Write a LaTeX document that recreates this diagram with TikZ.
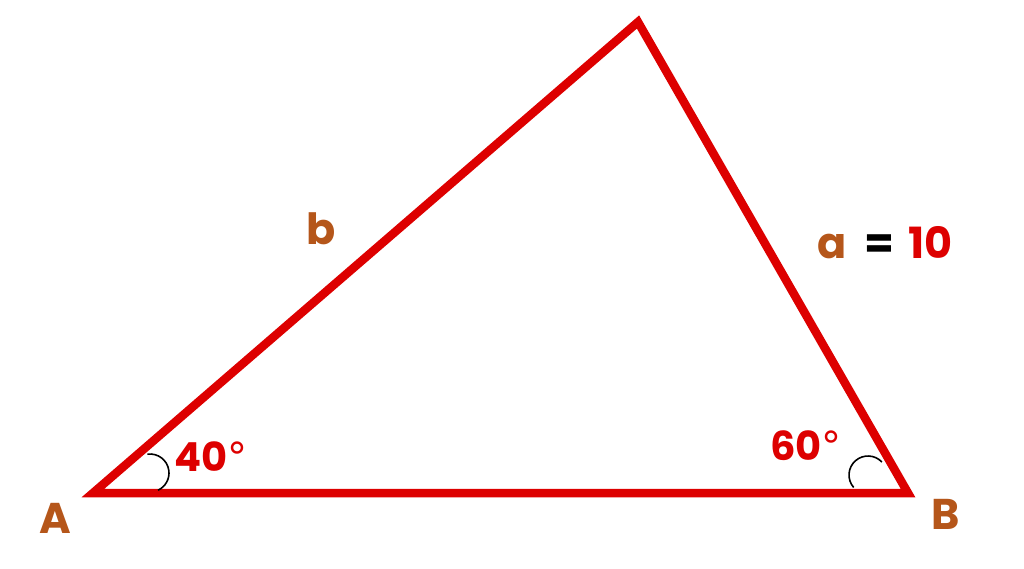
\documentclass[tikz,border=0pt]{standalone}
\usepackage{fontspec}
\setmainfont{Poppins}
\newfontfamily\degfont{DejaVu Sans}
\definecolor{tri}{HTML}{DD0000}
\definecolor{lbl}{HTML}{B5561A}
\tikzset{
  side/.style={draw=tri, line width=8.5, line join=miter},
  vlabel/.style={text=lbl, font=\fontsize{43}{43}\selectfont\bfseries},
  anglabel/.style={text=tri, font=\fontsize{40}{40}\selectfont\bfseries},
  anglearc/.style={draw=black, line width=1.6}
}
\begin{document}
\begin{tikzpicture}[x=1pt,y=-1pt]
\useasboundingbox (0,0) rectangle (1024,568);
\coordinate (A) at (93,493);
\coordinate (B) at (908,493);
\coordinate (C) at (638,22);
\draw[side] (A) -- (B) -- (C) -- cycle;
\coordinate (ac) at (150,473);
\coordinate (bc) at (868,475);
\draw[anglearc] ([shift={(-98:19)}]ac) arc[start angle=-98, end angle=65, radius=19];
\draw[anglearc] ([shift={(139:19)}]bc) arc[start angle=139, end angle=317, radius=19];
\node[vlabel] (la) at (55,518) {A};
\node[vlabel] (lb) at (946,514) {B};
\node[vlabel] (lside) at (321,229) {b};
\node[vlabel, anchor=base west] (lsa) at (814,258) {a\hspace{18pt}\textcolor{black}{=}\hspace{14pt}\textcolor{tri}{10}};
\node[anglabel] (a40) at (211,457) {40{\degfont\mdseries°}};
\node[anglabel] (a60) at (806,446) {60{\degfont\mdseries°}};
\end{tikzpicture}
\end{document}
